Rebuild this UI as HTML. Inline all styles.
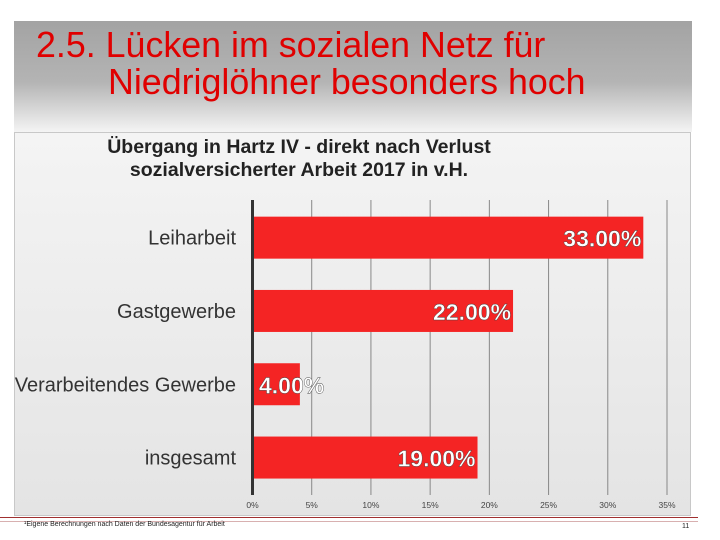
<!DOCTYPE html>
<html><head><meta charset="utf-8"><style>
body{margin:0;width:720px;height:540px;background:#fff;font-family:"Liberation Sans",sans-serif;overflow:hidden;position:relative}
#hdr{position:absolute;left:14px;top:21px;width:678px;height:111px;background:linear-gradient(#a3a3a3 0%,#b4b4b4 55%,#f4f4f4 100%)}
#t1,#t2{position:absolute;color:#e00000;font-size:35.8px;white-space:nowrap;line-height:36px}
#panel{position:absolute;left:14px;top:132px;width:677px;height:384px;background:linear-gradient(#f4f4f4,#e4e4e4);border:1px solid #c8c8c8;box-sizing:border-box}
#ctitle{position:absolute;left:49px;top:136px;width:500px;text-align:center;font-weight:bold;font-size:19.5px;color:#222;line-height:23px}
#foot{position:absolute;left:0;top:517px;width:698px;height:3px;border-top:1px solid #a03030;border-bottom:1px solid #d8b0b0}
</style></head><body>
<div id="hdr"></div>
<div id="t1" style="left:36px;top:27px">2.5. Lücken im sozialen Netz für</div>
<div id="t2" style="left:108px;top:64px">Niedriglöhner besonders hoch</div>
<div id="panel"></div>
<div id="ctitle">Übergang in Hartz IV - direkt nach Verlust<br>sozialversicherter Arbeit 2017 in v.H.</div>
<svg id="chart" width="720" height="540" style="position:absolute;left:0;top:0"></svg>
<div id="foot"></div>
<div style="position:absolute;left:24px;top:521px;font-size:7px;color:#222">¹Eigene Berechnungen nach Daten der Bundesagentur für Arbeit</div>
<div style="position:absolute;left:682px;top:523px;font-size:7px;color:#222">11</div>
<script>
const categories=["Leiharbeit","Gastgewerbe","Verarbeitendes Gewerbe","insgesamt"];
const values=[33,22,4,19];
const valueLabels=["33.00%","22.00%","4.00%","19.00%"];
const ticks=[0,5,10,15,20,25,30,35];
const tickLabels=["0%","5%","10%","15%","20%","25%","30%","35%"];
const svg=document.getElementById('chart');const NS='http://www.w3.org/2000/svg';
const x0=252.5,x1=667,y0=200,band=73.3;
const xs=v=>x0+(v/35)*(x1-x0);
const yc=i=>y0+band*(i+0.5)+1;
function mk(t,a){const e=document.createElementNS(NS,t);for(const k in a)e.setAttribute(k,a[k]);svg.appendChild(e);return e;}
ticks.forEach((t,i)=>{
 if(t>0){const g=mk('line',{x1:xs(t),x2:xs(t),y1:y0,y2:495,stroke:'#888','stroke-width':1});
 
 }
 const l=mk('text',{x:xs(t),y:508,'text-anchor':'middle','font-size':8.5,fill:'#444'});l.textContent=tickLabels[i];
 
 
});
categories.forEach((c,i)=>{
 const y=yc(i);
 const r=mk('rect',{x:x0,y:y-21,width:xs(values[i])-x0,height:42,fill:'#f42424'});
 
 
 const cl=mk('text',{x:236,y:y+7,'text-anchor':'end','font-size':20,fill:'#333'});cl.textContent=c;
 
 
 const endX=xs(values[i])-2;
 const small=endX<340;
 const vl=mk('text',{x:small?259:endX,y:y+9,'text-anchor':small?'start':'end','font-size':23,'font-weight':'bold',fill:'#fff',stroke:'#444','stroke-width':0.4});vl.textContent=valueLabels[i];
 
 
});
const ax=mk('line',{x1:x0,x2:x0,y1:y0,y2:495,stroke:'#333','stroke-width':3});


</script>
</body></html>
